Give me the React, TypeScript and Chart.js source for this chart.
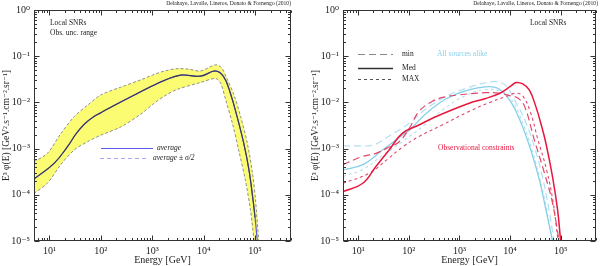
import React, { useEffect, useRef } from "react";
import { Chart, registerables } from "chart.js";

Chart.register(...registerables);

const FONT = '"Liberation Serif", "DejaVu Serif", serif';
const CITE = "Delahaye, Lavalle, Lineros, Donato & Fornengo (2010)";
const X_TITLE = "Energy [GeV]";
const Y_TITLE = "E³ φ(E) [GeV².s⁻¹.cm⁻².sr⁻¹]";
const X_MIN = 5;
const X_MAX = 5e5;
const Y_MIN = 1e-5;
const Y_MAX = 1;

// ---------- Left panel: observational uncertainty range ----------
const avgE = [5, 12.3, 22.4, 33, 47.9, 69, 100, 147, 214, 447, 891, 1740, 3550, 8710, 17000, 24500, 33100, 44700, 60300, 75900, 91200, 100000, 110000];
const avgF = [2.2e-4, 4.8e-4, 1.1e-3, 2.1e-3, 3.4e-3, 4.7e-3, 6.0e-3, 7.6e-3, 9.5e-3, 0.0145, 0.0214, 0.03, 0.039, 0.037, 0.048, 0.036, 0.0158, 4.9e-3, 1.29e-3, 3.5e-4, 7.8e-5, 3.2e-5, 1.05e-5];

const upE = [5, 9.1, 16.6, 30.2, 55, 100, 245, 603, 1000, 1740, 3020, 5010, 8710, 17000, 22400, 28200, 38900, 52500, 70800, 89100, 102000, 117000];
const upF = [5.2e-4, 7.9e-4, 2.1e-3, 4.9e-3, 8.7e-3, 0.0145, 0.0214, 0.0309, 0.0389, 0.0479, 0.0537, 0.0525, 0.0479, 0.065, 0.056, 0.033, 0.0145, 4.9e-3, 1.29e-3, 2.95e-4, 7.8e-5, 1.05e-5];

const loE = [5, 9.1, 16.6, 30.2, 55, 100, 245, 603, 1000, 1740, 3020, 8710, 17000, 21400, 26900, 36300, 47900, 64600, 81300, 95500];
const loF = [1.07e-4, 1.78e-4, 4.5e-4, 9.3e-4, 1.41e-3, 1.95e-3, 2.95e-3, 5.6e-3, 8.9e-3, 0.0138, 0.019, 0.027, 0.033, 0.026, 0.0112, 3.5e-3, 9.3e-4, 2.1e-4, 4.7e-5, 1.05e-5];

// ---------- Right panel: observational constraints (red) ----------
const obsMedE = [5, 12.3, 22.4, 40.7, 74.1, 158, 339, 1510, 3160, 6310, 10000, 13200, 17800, 24000, 32400, 41700, 51300, 69200, 87100, 100000];
const obsMedF = [1.17e-4, 1.78e-4, 4.1e-4, 9.3e-4, 2.14e-3, 3.24e-3, 4.9e-3, 9.5e-3, 0.012, 0.0158, 0.0219, 0.0269, 0.0251, 0.0186, 8.1e-3, 3.16e-3, 1.29e-3, 2.45e-4, 4.7e-5, 1e-5];

const obsMinE = [5, 12.3, 22.4, 35.5, 64.6, 102, 158, 288, 525, 955, 3160, 6310, 10500, 14500, 19500, 30200, 47900, 69200, 93300];
const obsMinF = [4.5e-4, 6.8e-4, 7.9e-4, 1.0e-3, 1.41e-3, 2.75e-3, 6.3e-3, 0.0105, 0.0132, 0.0145, 0.0162, 0.0158, 0.0138, 0.0123, 8.1e-3, 1.55e-3, 2.95e-4, 6.6e-5, 1e-5];

const obsMaxE = [5, 16.6, 40.7, 74.1, 158, 457, 1510, 3980, 7940, 13200, 17800, 25100, 35500, 52500, 70800, 89100];
const obsMaxF = [1.78e-4, 2.95e-4, 6.3e-4, 1.07e-3, 1.82e-3, 3.24e-3, 6.3e-3, 0.01, 0.0132, 0.0158, 0.0138, 6.3e-3, 1.58e-3, 3.55e-4, 7.1e-5, 1e-5];

// ---------- Right panel: all sources alike (light blue) ----------
const allMedE = [5, 12.3, 30.2, 74.1, 102, 214, 525, 1320, 3720, 6310, 10500, 16600, 25700, 38000, 51300, 69200];
const allMedF = [3.47e-4, 4.5e-4, 9.3e-4, 1.95e-3, 2.5e-3, 5.6e-3, 0.0117, 0.0178, 0.0219, 0.019, 0.01, 3.55e-3, 9.3e-4, 2.1e-4, 4.7e-5, 1e-5];

const allMinE = [5, 10, 20, 41.7, 102, 214, 525, 1320, 4680, 7940, 12300, 19500, 30200, 43700, 58900, 74100];
const allMinF = [1.15e-3, 1.15e-3, 1.2e-3, 1.9e-3, 3.55e-3, 7.1e-3, 0.0132, 0.02, 0.0282, 0.024, 0.0112, 4.2e-3, 1.1e-3, 2.45e-4, 4.7e-5, 1e-5];

const allMaxE = [5, 12.3, 30.2, 74.1, 200, 525, 1320, 3160, 6310, 10000, 15800, 25100, 38000, 52500, 67600];
const allMaxF = [2.5e-4, 3.55e-4, 7.1e-4, 1.41e-3, 3.16e-3, 7.6e-3, 0.0141, 0.019, 0.0178, 0.0126, 5e-3, 1.26e-3, 2.5e-4, 5e-5, 1e-5];

// ---------- colours ----------
const YELLOW = "#fcfc72";
const BAND_EDGE = "#8f8f8f";
const AVG_DARK = "#3a3a4e";
const AVG_BLUE = "#5a5ae6";
const RED = "#e8173d";
const RED_DASH = "#e2486a";
const BLUE = "#86cfe9";
const BLUE_LIGHT = "#b2e0f3";

const pts = (xs: number[], ys: number[]) => xs.map((x, i) => ({ x, y: ys[i] }));

const SUP: Record<string, string> = { "-": "⁻", "0": "⁰", "1": "¹", "2": "²", "3": "³", "4": "⁴", "5": "⁵", "6": "⁶", "7": "⁷", "8": "⁸", "9": "⁹" };
const isDecade = (v: number) => Math.abs(Math.log10(v) - Math.round(Math.log10(v))) < 1e-6;
const decadeLabel = (v: number) =>
  isDecade(v) ? "10" + String(Math.round(Math.log10(v))).split("").map((c) => SUP[c]).join("") : "";
function logTicks(min: number, max: number) {
  const t: { value: number }[] = [];
  for (let e = Math.floor(Math.log10(min)); e <= Math.ceil(Math.log10(max)); e++) {
    for (let m = 1; m < 10; m++) {
      const v = m * Math.pow(10, e);
      if (v >= min * 0.999 && v <= max * 1.001) t.push({ value: v });
    }
  }
  return t;
}

type Txt = { x: number; y: number; text: string; color?: string; size?: number; italic?: boolean; align?: CanvasTextAlign };
type Leg = { x1: number; x2: number; y: number; color: string; dash: number[]; width?: number };

function decorPlugin(texts: Txt[], legend: Leg[]) {
  return {
    id: "decor",
    afterDatasetsDraw(chart: any) {
      const { ctx, chartArea: a, scales } = chart;
      ctx.save();
      ctx.strokeStyle = "#333";
      ctx.lineWidth = 1;
      const L = Math.round(a.left) + 0.5, R = Math.round(a.right) - 0.5;
      const T = Math.round(a.top) + 0.5, B = Math.round(a.bottom) - 0.5;
      ctx.strokeRect(L, T, R - L, B - T);
      ctx.beginPath();
      for (const t of scales.x.ticks) {
        const px = Math.round(scales.x.getPixelForValue(t.value)) + 0.5;
        const len = isDecade(t.value) ? 5 : 2.5;
        ctx.moveTo(px, B); ctx.lineTo(px, B - len);
        ctx.moveTo(px, T); ctx.lineTo(px, T + len);
      }
      for (const t of scales.y.ticks) {
        const py = Math.round(scales.y.getPixelForValue(t.value)) + 0.5;
        const len = isDecade(t.value) ? 5 : 2.5;
        ctx.moveTo(L, py); ctx.lineTo(L + len, py);
        ctx.moveTo(R, py); ctx.lineTo(R - len, py);
      }
      ctx.stroke();
      ctx.restore();
    },
    afterDraw(chart: any) {
      const { ctx } = chart;
      ctx.save();
      for (const l of legend) {
        ctx.strokeStyle = l.color;
        ctx.lineWidth = l.width ?? 1.2;
        ctx.setLineDash(l.dash);
        ctx.beginPath();
        ctx.moveTo(l.x1, l.y + 0.5);
        ctx.lineTo(l.x2, l.y + 0.5);
        ctx.stroke();
      }
      ctx.setLineDash([]);
      ctx.textBaseline = "middle";
      for (const t of texts) {
        ctx.fillStyle = t.color ?? "#222";
        ctx.textAlign = t.align ?? "left";
        ctx.font = `${t.italic ? "italic " : ""}${t.size ?? 7.5}px ${FONT}`;
        ctx.fillText(t.text, t.x, t.y);
      }
      ctx.restore();
    },
  };
}

function makeScales(yWidth: number, yTitlePad: number) {
  return {
    x: {
      type: "logarithmic",
      min: X_MIN,
      max: X_MAX,
      grid: { display: false, drawTicks: false },
      border: { display: false },
      afterBuildTicks: (s: any) => { s.ticks = logTicks(X_MIN, X_MAX); },
      afterFit: (s: any) => { s.height = 25; },
      ticks: { autoSkip: false, maxRotation: 0, padding: 4, color: "#222", font: { family: FONT, size: 10 }, callback: (v: any) => decadeLabel(Number(v)) },
      title: { display: true, text: X_TITLE, color: "#222", font: { family: FONT, size: 10 }, padding: 0 },
    },
    y: {
      type: "logarithmic",
      min: Y_MIN,
      max: Y_MAX,
      grid: { display: false, drawTicks: false },
      border: { display: false },
      afterBuildTicks: (s: any) => { s.ticks = logTicks(Y_MIN, Y_MAX); },
      afterFit: (s: any) => { s.width = yWidth; },
      ticks: { autoSkip: false, padding: 4, color: "#222", font: { family: FONT, size: 10 }, callback: (v: any) => decadeLabel(Number(v)) },
      title: { display: true, text: Y_TITLE, color: "#222", font: { family: FONT, size: 9.5 }, padding: { top: yTitlePad, bottom: 0 } },
    },
  };
}

const line = (data: any[], color: string, dash: number[] = [], width = 1.2, extra: any = {}) => ({
  data,
  borderColor: color,
  borderWidth: width,
  borderDash: dash,
  pointRadius: 0,
  tension: 0.4,
  fill: false,
  ...extra,
});

function useChart(ref: React.RefObject<HTMLCanvasElement>, build: () => any) {
  useEffect(() => {
    if (!ref.current) return;
    const chart = new Chart(ref.current, build());
    return () => chart.destroy();
  }, []);
}

function LeftPanel() {
  const ref = useRef<HTMLCanvasElement>(null);
  useChart(ref, () => {
    const band = [...pts(upE, upF), ...pts(loE, loF).reverse()];
    const avg = pts(avgE, avgF);
    // Chart.js draws the last dataset first, so the band comes last.
    return {
      type: "line",
      data: {
        datasets: [
          line(avg.slice(0, avg.length - 1), AVG_DARK, [], 1.1),
          line(avg, AVG_BLUE, [], 1.2),
          line(pts(upE, upF), BAND_EDGE, [3, 2], 1, { tension: 0.3 }),
          line(pts(loE, loF), BAND_EDGE, [3, 2], 1, { tension: 0.3 }),
          line(band, "rgba(0,0,0,0)", [], 0, { fill: "shape", backgroundColor: YELLOW, tension: 0.3 }),
        ],
      },
      options: {
        responsive: false,
        animation: false,
        events: [],
        layout: { padding: { top: 10, right: 9, left: 0, bottom: 0 } },
        plugins: { legend: { display: false }, tooltip: { enabled: false } },
        scales: makeScales(34, 1),
      },
      plugins: [
        decorPlugin(
          [
            { x: 291, y: 4, text: CITE, size: 5.6, align: "right" },
            { x: 50, y: 23, text: "Local SNRs" },
            { x: 50, y: 33, text: "Obs. unc. range" },
            { x: 157, y: 148, text: "average", italic: true },
            { x: 153, y: 158, text: "average ± σ/2", italic: true },
          ],
          [
            { x1: 101, x2: 153, y: 148, color: AVG_BLUE, dash: [] },
            { x1: 100, x2: 149, y: 158, color: "#a9a9ee", dash: [4, 3] },
          ]
        ),
      ],
    };
  });
  return <canvas ref={ref} width={300} height={266} style={{ display: "block" }} />;
}

function RightPanel() {
  const ref = useRef<HTMLCanvasElement>(null);
  useChart(ref, () => ({
    type: "line",
    data: {
      datasets: [
        line(pts(obsMedE, obsMedF), RED, [], 1.5),
        line(pts(obsMaxE, obsMaxF), RED_DASH, [3, 3], 1.1),
        line(pts(obsMinE, obsMinF), RED_DASH, [7, 4], 1.2),
        line(pts(allMedE, allMedF), BLUE, [], 1.3),
        line(pts(allMaxE, allMaxF), BLUE_LIGHT, [3, 3], 1.1),
        line(pts(allMinE, allMinF), BLUE_LIGHT, [7, 4], 1.2),
      ],
    },
    options: {
      responsive: false,
      animation: false,
      events: [],
      layout: { padding: { top: 10, right: 1, left: 0, bottom: 0 } },
      plugins: { legend: { display: false }, tooltip: { enabled: false } },
      scales: makeScales(43, 10),
    },
    plugins: [
      decorPlugin(
        [
          { x: 298, y: 4, text: CITE, size: 5.6, align: "right" },
          { x: 230, y: 23, text: "Local SNRs" },
          { x: 102, y: 54, text: "min" },
          { x: 102, y: 68, text: "Med" },
          { x: 102, y: 79, text: "MAX" },
          { x: 137, y: 54, text: "All sources alike", color: BLUE },
          { x: 138, y: 148, text: "Observational constraints", color: RED },
        ],
        [
          { x1: 58, x2: 93, y: 54, color: "#888", dash: [7, 4] },
          { x1: 58, x2: 93, y: 68, color: "#333", dash: [], width: 1.3 },
          { x1: 58, x2: 93, y: 79, color: "#555", dash: [3, 3], width: 1 },
        ]
      ),
    ],
  }));
  return <canvas ref={ref} width={300} height={266} style={{ display: "block" }} />;
}

export default function App() {
  return (
    <div style={{ position: "absolute", left: 0, top: 0, width: 600, height: 266, display: "flex", background: "#fff" }}>
      <LeftPanel />
      <RightPanel />
    </div>
  );
}
